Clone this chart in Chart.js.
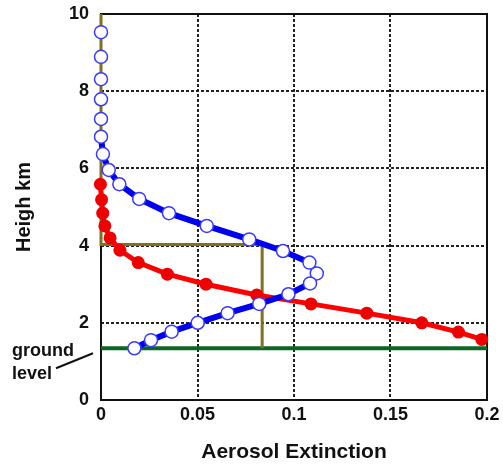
<!DOCTYPE html>
<html>
<head>
<meta charset="utf-8">
<script src="https://cdn.jsdelivr.net/npm/chart.js@4"></script>
<style>
  body { margin: 0; background: #fff; }
  #wrap { width: 503px; height: 466px; }
</style>
</head>
<body>
<div id="wrap"><canvas id="chart"></canvas></div>
<script>
// profile with open circles (blue)
const blueHeight = [9.53, 8.89, 8.31, 7.79, 7.28, 6.82, 6.37, 5.96, 5.59, 5.21, 4.84, 4.51, 4.16, 3.86, 3.56, 3.28, 3.02, 2.74, 2.49, 2.25, 2.00, 1.77, 1.55, 1.34];
const blueExt = [0, 0, 0, 0, 0, 0, 0.001, 0.004, 0.0095, 0.0198, 0.0352, 0.0548, 0.0768, 0.0943, 0.108, 0.1118, 0.1083, 0.0971, 0.082, 0.0656, 0.0501, 0.0366, 0.0259, 0.0173];

// profile with filled circles (red)
const redHeight = [6.82, 6.39, 5.98, 5.59, 5.19, 4.84, 4.51, 4.20, 3.88, 3.56, 3.26, 3.00, 2.72, 2.49, 2.25, 2.00, 1.76, 1.57];
const redExt = [-0.0012, -0.0012, -0.0008, -0.0003, 0.0003, 0.0009, 0.002, 0.0047, 0.0098, 0.0193, 0.0344, 0.0544, 0.0807, 0.1088, 0.1377, 0.1662, 0.1852, 0.1973];

// olive box and ground line
const boxHeight = [10, 4.03, 4.03, 1.34];
const boxExt = [0, 0, 0.0835, 0.0835];
const groundHeight = 1.34;

const xTicks = [0, 0.05, 0.1, 0.15, 0.2];
const yTicks = [0, 2, 4, 6, 8, 10];

function toPoints(xs, ys) {
  return xs.map((x, i) => ({x: x, y: ys[i]}));
}

const tickFont = {family: 'Liberation Sans', size: 18, weight: 'bold'};

// solid frame round the plot area
const framePlugin = {
  id: 'frame',
  beforeDatasetsDraw(chart) {
    const {ctx, chartArea: a} = chart;
    ctx.save();
    ctx.strokeStyle = '#111';
    ctx.lineWidth = 2;
    ctx.strokeRect(a.left, a.top, a.right - a.left, a.bottom - a.top);
    ctx.restore();
  }
};

// "ground level" note with its pointer
const groundLabel = {
  id: 'groundLabel',
  afterDraw(chart) {
    const {ctx, chartArea: a} = chart;
    const gy = chart.scales.y.getPixelForValue(groundHeight);
    ctx.save();
    ctx.font = 'bold 18px "Liberation Sans"';
    ctx.fillStyle = '#111';
    ctx.textBaseline = 'middle';
    ctx.fillText('ground', 12, gy + 3);
    ctx.fillText('level', 12, gy + 26);
    ctx.beginPath();
    ctx.moveTo(56, gy + 20);
    ctx.lineTo(a.left - 8, gy + 5);
    ctx.lineWidth = 2;
    ctx.strokeStyle = '#111';
    ctx.stroke();
    ctx.restore();
  }
};

const config = {
  type: 'line',
  data: {
    datasets: [
      {
        label: 'open',
        data: toPoints(blueExt, blueHeight),
        borderColor: '#0000ee',
        borderWidth: 6,
        pointRadius: 6.5,
        pointBorderWidth: 1.5,
        pointBackgroundColor: '#ffffff',
        pointBorderColor: '#3a3aff',
        clip: false,
        order: 0,
        segment: {
          borderColor: c => (c.p0.parsed.x === 0 && c.p1.parsed.x === 0) ? 'rgba(0,0,0,0)' : undefined
        }
      },
      {
        label: 'filled',
        data: toPoints(redExt, redHeight),
        borderColor: '#ff0000',
        borderWidth: 5,
        pointRadius: 6.5,
        pointBorderWidth: 0,
        pointBackgroundColor: '#ee0000',
        clip: false,
        order: 1
      },
      {
        label: 'box',
        data: toPoints(boxExt, boxHeight),
        borderColor: '#80701f',
        borderWidth: 3,
        pointRadius: 0,
        clip: false,
        order: 2
      },
      {
        label: 'ground',
        data: [{x: 0, y: groundHeight}, {x: 0.2, y: groundHeight}],
        borderColor: '#0b6623',
        borderWidth: 4,
        pointRadius: 0,
        clip: false,
        order: 3
      }
    ]
  },
  options: {
    responsive: true,
    maintainAspectRatio: false,
    animation: false,
    layout: {padding: {top: 14, right: 16, left: 0, bottom: 0}},
    plugins: {
      legend: {display: false},
      tooltip: {enabled: false}
    },
    scales: {
      x: {
        type: 'linear',
        min: 0,
        max: 0.2,
        afterBuildTicks: s => { s.ticks = xTicks.map(v => ({value: v})); },
        afterFit: s => { s.height = 66; s.paddingLeft = 0; s.paddingRight = 0; },
        ticks: {
          font: tickFont,
          color: '#111',
          padding: 4,
          callback: v => String(v)
        },
        grid: {color: '#222', lineWidth: 2, drawTicks: false},
        border: {display: false, dash: [3, 2]},
        title: {
          display: true,
          text: 'Aerosol Extinction',
          color: '#111',
          font: {family: 'Liberation Sans', size: 21, weight: 'bold'},
          padding: {top: 0, bottom: 1}
        }
      },
      y: {
        type: 'linear',
        min: 0,
        max: 10,
        afterBuildTicks: s => { s.ticks = yTicks.map(v => ({value: v})); },
        afterFit: s => { s.width = 101; s.paddingTop = 0; s.paddingBottom = 0; },
        ticks: {
          font: tickFont,
          color: '#111',
          padding: 12
        },
        grid: {color: '#222', lineWidth: 2, drawTicks: false},
        border: {display: false, dash: [3, 2]},
        title: {
          display: true,
          text: 'Heigh km',
          color: '#111',
          font: {family: 'Liberation Sans', size: 20, weight: 'bold'},
          padding: {top: 12, bottom: 0}
        }
      }
    }
  },
  plugins: [framePlugin, groundLabel]
};

var chart = new Chart(document.getElementById('chart'), config);
</script>
</body>
</html>
